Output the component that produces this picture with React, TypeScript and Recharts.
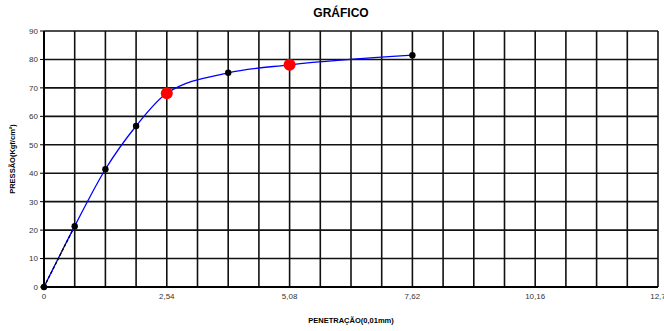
import {
  ComposedChart,
  CartesianGrid,
  Line,
  Scatter,
  XAxis,
  YAxis,
  Label,
} from "recharts";

const penetracao = [0, 0.635, 1.27, 1.905, 2.54, 3.81, 5.08, 7.62];
const pressao = [0, 21.4, 41.4, 56.6, 68.1, 75.3, 78.1, 81.5];

const ensaio = [0, 0.635, 1.27, 1.905, 3.81, 7.62];
const ensaioPressao = [0, 21.4, 41.4, 56.6, 75.3, 81.5];

const padrao = [2.54, 5.08];
const padraoPressao = [68.1, 78.1];

const xTicks = Array.from({ length: 21 }, (_, i) => Math.round(i * 0.635 * 1000) / 1000);
const xLabels = [0, 2.54, 5.08, 7.62, 10.16, 12.7];
const yTicks = [0, 10, 20, 30, 40, 50, 60, 70, 80, 90];

const curve = penetracao.map((x, i) => ({ x, y: pressao[i] }));
const points = ensaio.map((x, i) => ({ x, y: ensaioPressao[i] }));
const redPoints = padrao.map((x, i) => ({ x, y: padraoPressao[i] }));
const firstSeg = curve.slice(0, 2);

const fmt = (v: number) =>
  xLabels.some((l) => Math.abs(l - v) < 0.001) ? String(v).replace(".", ",") : "";

export default function App() {
  return (
    <div
      style={{
        position: "absolute",
        left: 0,
        top: 0,
        width: 664,
        height: 331,
        background: "#fff",
        fontFamily: "'Liberation Sans', Arial, sans-serif",
      }}
    >
      <div
        style={{
          position: "absolute",
          top: 6,
          left: 291,
          width: 100,
          textAlign: "center",
          fontSize: 12,
          fontWeight: "bold",
        }}
      >
        GRÁFICO
      </div>
      <ComposedChart
        width={664}
        height={331}
        margin={{ top: 31, right: 6, left: 0, bottom: 0 }}
      >
        <CartesianGrid stroke="#111" strokeWidth={1.6} xAxisId="x" yAxisId="y" />
        <XAxis
          xAxisId="x"
          dataKey="x"
          type="number"
          domain={[0, 12.7]}
          ticks={xTicks}
          tickFormatter={fmt}
          interval={0}
          height={44}
          axisLine={{ stroke: "#000", strokeWidth: 2 }}
          tickLine={false}
          tick={{ fontSize: 8, fill: "#333" }}
          tickMargin={0}
        >
          <Label
            value="PENETRAÇÃO(0,01mm)"
            position="insideBottom"
            offset={8}
            style={{ fontSize: 7.5, fontWeight: "bold", fill: "#000" }}
          />
        </XAxis>
        <YAxis
          yAxisId="y"
          dataKey="y"
          type="number"
          domain={[0, 90]}
          ticks={yTicks}
          interval={0}
          width={44}
          axisLine={{ stroke: "#000", strokeWidth: 2 }}
          tickLine={{ stroke: "#000" }}
          tickSize={4}
          tick={{ fontSize: 8, fill: "#333" }}
        >
          <Label
            value="PRESSÃO(Kgf/cm²)"
            angle={-90}
            position="insideLeft"
            offset={12}
            style={{ fontSize: 7.5, fontWeight: "bold", fill: "#000", textAnchor: "middle" }}
          />
        </YAxis>
        <Line
          xAxisId="x"
          yAxisId="y"
          data={curve}
          dataKey="y"
          type="monotone"
          stroke="#0000ff"
          strokeWidth={1.3}
          dot={false}
          isAnimationActive={false}
        />
        <Line
          xAxisId="x"
          yAxisId="y"
          data={firstSeg}
          dataKey="y"
          type="linear"
          stroke="#000"
          strokeWidth={1.3}
          strokeDasharray="3 2"
          dot={false}
          isAnimationActive={false}
        />
        <Scatter
          xAxisId="x"
          yAxisId="y"
          data={points}
          dataKey="y"
          fill="#000"
          shape={(p: any) => <circle cx={p.cx} cy={p.cy} r={3.2} fill="#000" />}
          isAnimationActive={false}
        />
        <Scatter
          xAxisId="x"
          yAxisId="y"
          data={redPoints}
          dataKey="y"
          fill="#ff0000"
          shape={(p: any) => <circle cx={p.cx} cy={p.cy} r={6} fill="#ff0000" />}
          isAnimationActive={false}
        />
      </ComposedChart>
    </div>
  );
}
